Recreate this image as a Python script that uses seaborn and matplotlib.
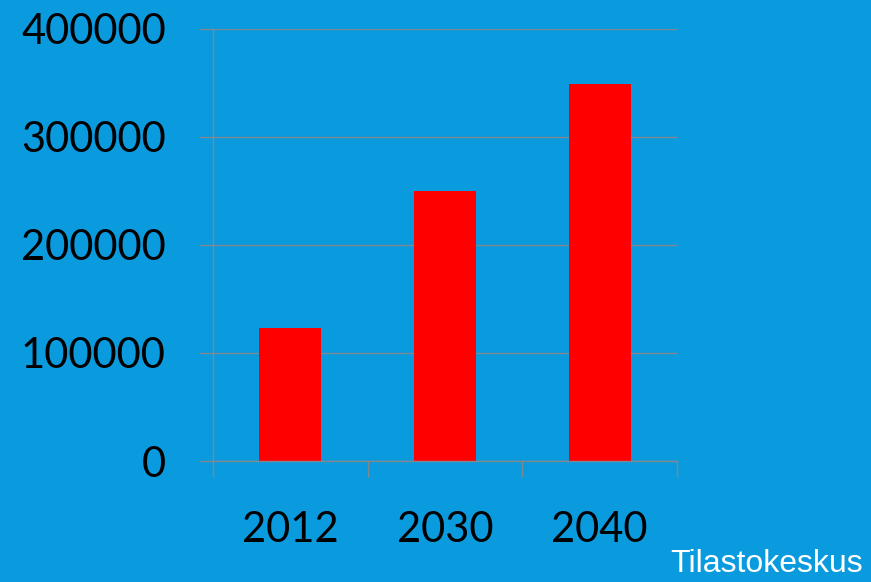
import matplotlib
matplotlib.use("Agg")
import matplotlib.pyplot as plt
import seaborn as sns
from matplotlib.ticker import FixedLocator

years = ["2012", "2030", "2040"]
values = [123000, 250000, 349000]
y_ticks = [0, 100000, 200000, 300000, 400000]
source_label = "Tilastokeskus"

bg = "#0a9ade"
grid_color = "#808890"

sns.set_style("white")
plt.rcParams["font.family"] = ["Lato", "DejaVu Sans"]

fig = plt.figure(figsize=(8.71, 5.82), dpi=100)
fig.patch.set_facecolor(bg)
ax = fig.add_axes([0.2446, 0.2079, 0.5327, 0.7423])
ax.set_facecolor(bg)

sns.barplot(x=years, y=values, color="#ff0000", width=0.4, saturation=1,
            edgecolor="none", linewidth=0, ax=ax)

ax.set_xlim(-0.5, len(years) - 0.5)
ax.set_ylim(0, 400000)
ax.set_yticks(y_ticks)
ax.set_yticklabels([str(t) for t in y_ticks])
ax.yaxis.grid(True, color=grid_color, linewidth=1)
ax.set_axisbelow(True)

ax.xaxis.set_minor_locator(FixedLocator([i - 0.5 for i in range(len(years) + 1)]))
ax.tick_params(axis="x", which="major", length=0, pad=36, labelsize=30,
               labelcolor="black")
ax.tick_params(axis="x", which="minor", length=11.5, width=1, color=grid_color, bottom=True)
ax.tick_params(axis="y", which="major", length=10, width=1, color=grid_color, pad=24,
               labelsize=30, labelcolor="black", left=True)

for side in ["top", "right"]:
    ax.spines[side].set_visible(False)
for side in ["left", "bottom"]:
    ax.spines[side].set_color(grid_color)
    ax.spines[side].set_linewidth(1)

ax.set_xlabel("")
ax.set_ylabel("")

fig.text(0.991, 0.006, source_label, color="white", fontsize=23,
         family=["Liberation Sans", "DejaVu Sans"], ha="right", va="bottom")

fig.savefig("out.png", dpi=100, facecolor=bg)
